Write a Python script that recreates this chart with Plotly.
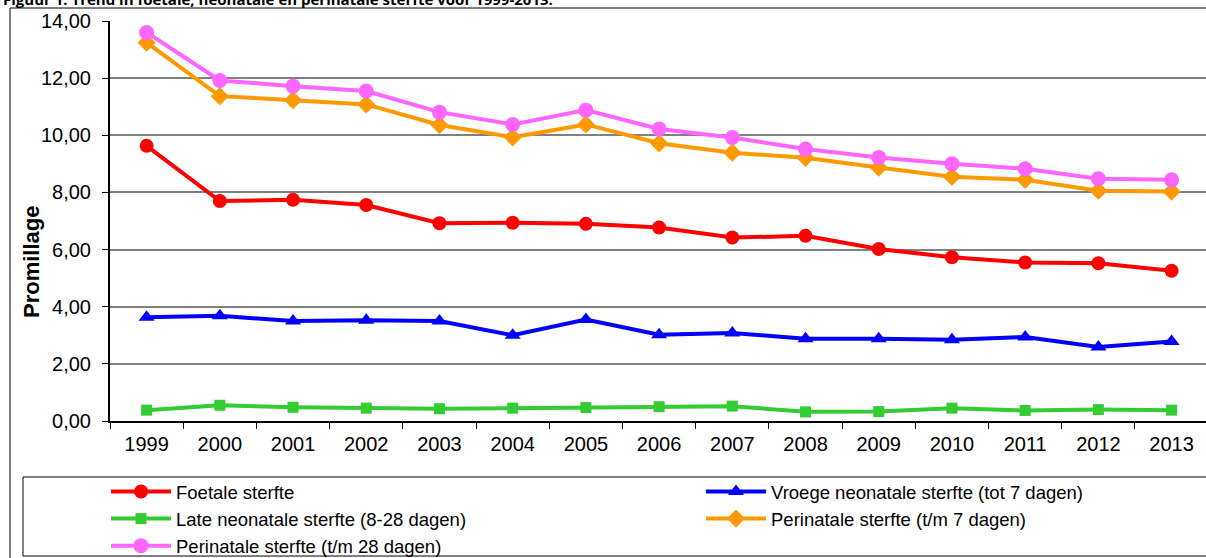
import plotly.graph_objects as go

# jaren en reeksen (promillage)
jaren = ["1999", "2000", "2001", "2002", "2003", "2004", "2005", "2006",
         "2007", "2008", "2009", "2010", "2011", "2012", "2013"]

foetale = [9.63, 7.70, 7.74, 7.56, 6.92, 6.94, 6.90, 6.77, 6.42, 6.48, 6.02, 5.73, 5.55, 5.52, 5.26]
vroege_neonatale = [3.63, 3.68, 3.50, 3.53, 3.50, 3.00, 3.55, 3.02, 3.08, 2.88, 2.88, 2.84, 2.94, 2.59, 2.78]
late_neonatale = [0.38, 0.55, 0.48, 0.45, 0.43, 0.45, 0.47, 0.50, 0.52, 0.32, 0.33, 0.45, 0.37, 0.40, 0.38]
perinatale_7 = [13.24, 11.37, 11.23, 11.08, 10.36, 9.93, 10.38, 9.72, 9.39, 9.21, 8.87, 8.55, 8.44, 8.06, 8.03]
perinatale_28 = [13.60, 11.92, 11.72, 11.55, 10.81, 10.38, 10.88, 10.22, 9.92, 9.52, 9.22, 9.00, 8.83, 8.48, 8.44]

y_ticks = [0, 2, 4, 6, 8, 10, 12, 14]

W, H = 1206, 558
L, R, T, B = 110, 0, 21, 137
PW, PH = W - L - R, H - T - B


# pixel -> paper coords
def px(x):
    return (x - L) / PW


def py(y):
    return (H - B - y) / PH


# (naam, data, kleur, symbool, grootte, legenda)
reeksen = [
    ("Foetale sterfte", foetale, "#FF0000", "circle", 14, "legend"),
    ("Vroege neonatale sterfte (tot 7 dagen)", vroege_neonatale, "#0000FF", "triangle-up", 14, "legend2"),
    ("Late neonatale sterfte (8-28 dagen)", late_neonatale, "#33CC33", "square", 11, "legend"),
    ("Perinatale sterfte (t/m 7 dagen)", perinatale_7, "#FF9900", "diamond", 14, "legend2"),
    ("Perinatale sterfte (t/m 28 dagen)", perinatale_28, "#FF66FF", "circle", 15, "legend"),
]

fig = go.Figure()
for naam, waarden, kleur, symbool, grootte, leg in reeksen:
    fig.add_trace(go.Scatter(
        x=jaren, y=waarden, name=naam, mode="lines+markers",
        line=dict(color=kleur, width=4),
        marker=dict(symbol=symbool, size=grootte, color=kleur),
        legend=leg,
    ))

font = dict(family="Liberation Sans, Arial, sans-serif", size=20, color="black")
leg_font = dict(font, size=18.5)
leg_stijl = dict(
    orientation="v", xref="container", yref="container",
    xanchor="left", yanchor="top", y=1 - 473 / H,
    bgcolor="rgba(0,0,0,0)", borderwidth=0,
    itemwidth=60, font=leg_font, traceorder="normal",
)

fig.update_layout(
    width=W, height=H,
    margin=dict(l=L, r=R, t=T, b=B, autoexpand=False),
    paper_bgcolor="white", plot_bgcolor="white",
    font=font,
    separators=",.",
    showlegend=True,
    legend=dict(leg_stijl, x=106 / W),
    legend2=dict(leg_stijl, x=701 / W),
    shapes=[
        # buitenkader
        dict(type="rect", xref="paper", yref="paper",
             x0=px(10), x1=px(1230), y0=py(8), y1=py(575),
             line=dict(color="black", width=1), layer="below"),
        # legendakader
        dict(type="rect", xref="paper", yref="paper",
             x0=px(23), x1=px(1230), y0=py(477), y1=py(556),
             line=dict(color="black", width=1), fillcolor="white", layer="below"),
    ],
    annotations=[
        dict(text="<b>Figuur 1: Trend in foetale, neonatale en perinatale sterfte voor 1999-2013.</b>",
             xref="paper", yref="paper", x=px(1), y=py(-1), xanchor="left", yanchor="middle",
             showarrow=False, font=dict(family="Open Sans, sans-serif", size=15, color="black")),
        dict(text="<b>Promillage</b>", textangle=-90,
             xref="paper", yref="paper", x=px(31), y=py(262), xanchor="center", yanchor="middle",
             showarrow=False, font=dict(family="Liberation Sans, Arial, sans-serif", size=22, color="black")),
    ],
)

fig.update_xaxes(
    type="category", range=[-0.5, 14.47],
    showline=True, linecolor="black", linewidth=2,
    ticks="outside", tickson="boundaries", ticklen=6, tickcolor="black",
    ticklabelstandoff=4,
    showgrid=False, tickfont=font,
)

fig.update_yaxes(
    range=[0, 14], tickvals=y_ticks, tickformat=".2f",
    showline=True, linecolor="black", linewidth=2,
    ticks="outside", ticklen=6, tickcolor="black",
    ticklabelstandoff=7,
    showgrid=True, gridcolor="#808080", gridwidth=1.5,
    zeroline=False, tickfont=font,
)

# geen marge rond de pagina, geen modebar
fig.write_html("out.html", config={"displayModeBar": False},
               post_script="document.body.style.margin='0';document.body.style.overflow='hidden';")
